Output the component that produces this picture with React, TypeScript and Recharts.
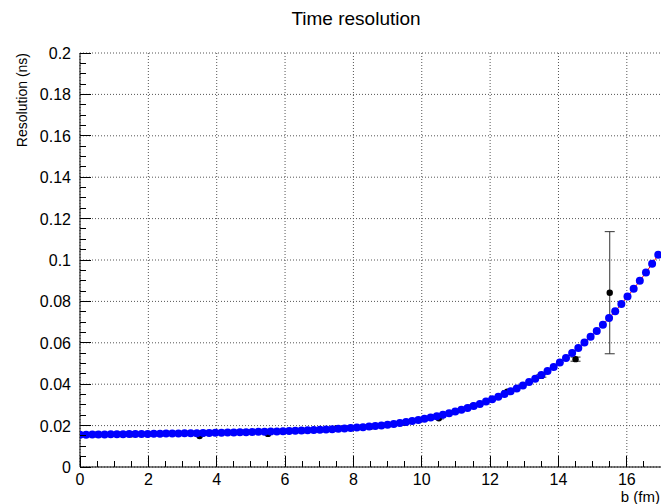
import React from 'react';
import {
  ComposedChart,
  Line,
  Scatter,
  ErrorBar,
  XAxis,
  YAxis,
  CartesianGrid,
} from 'recharts';

// fitted curve, sampled every 0.18 fm (blue markers + red line)
const fitB = [
  0, 0.18, 0.36, 0.54, 0.72, 0.9, 1.08, 1.26, 1.44, 1.62, 1.8, 1.98, 2.16, 2.34, 2.52, 2.7,
  2.88, 3.06, 3.24, 3.42, 3.6, 3.78, 3.96, 4.14, 4.32, 4.5, 4.68, 4.86, 5.04, 5.22, 5.4, 5.58,
  5.76, 5.94, 6.12, 6.3, 6.48, 6.66, 6.84, 7.02, 7.2, 7.38, 7.56, 7.74, 7.92, 8.1, 8.28, 8.46,
  8.64, 8.82, 9, 9.18, 9.36, 9.54, 9.72, 9.9, 10.08, 10.26, 10.44, 10.62, 10.8, 10.98, 11.16,
  11.34, 11.52, 11.7, 11.88, 12.06, 12.24, 12.42, 12.6, 12.78, 12.96, 13.14, 13.32, 13.5, 13.68,
  13.86, 14.04, 14.22, 14.4, 14.58, 14.76, 14.94, 15.12, 15.3, 15.48, 15.66, 15.84, 16.02, 16.2,
  16.38, 16.56, 16.74, 16.92,
];
const fitRes = [
  0.0156, 0.01563, 0.01567, 0.01571, 0.01574, 0.01578, 0.01582, 0.01585, 0.01589, 0.01592,
  0.01596, 0.016, 0.01604, 0.01609, 0.01613, 0.01618, 0.01622, 0.01627, 0.01631, 0.01636,
  0.0164, 0.01645, 0.01649, 0.01656, 0.01663, 0.0167, 0.01677, 0.01684, 0.01692, 0.01699,
  0.01706, 0.01713, 0.0172, 0.01728, 0.01737, 0.01748, 0.01759, 0.01771, 0.01784, 0.01798,
  0.01813, 0.01829, 0.01846, 0.01864, 0.01883, 0.01904, 0.01926, 0.01951, 0.01979, 0.0201,
  0.02044, 0.02082, 0.02123, 0.02168, 0.02217, 0.0227, 0.02328, 0.02389, 0.02454, 0.02523,
  0.02597, 0.02676, 0.02761, 0.02851, 0.02946, 0.03049, 0.03159, 0.03276, 0.03395, 0.03521,
  0.03654, 0.03794, 0.03943, 0.04101, 0.04268, 0.04446, 0.04635, 0.04835, 0.05046, 0.05269,
  0.05505, 0.05753, 0.06014, 0.06288, 0.06576, 0.06878, 0.07195, 0.07526, 0.07872, 0.08232,
  0.08606, 0.08995, 0.09398, 0.09816, 0.10248,
];

// measured points (black, with errors)
const measB = [0.5, 1.5, 2.5, 3.5, 4.5, 5.5, 6.5, 7.5, 8.5, 9.5, 10.5, 11.5, 12.5, 13.5, 14.5, 15.5];
const measRes = [
  0.0157, 0.0158, 0.0162, 0.015, 0.0166, 0.016, 0.0175, 0.0186, 0.0194, 0.0214, 0.0235, 0.0296,
  0.0364, 0.044, 0.0521, 0.0842,
];
const measErr = [
  0.0002, 0.0002, 0.0002, 0.0002, 0.0002, 0.0002, 0.0002, 0.0002, 0.0003, 0.0003, 0.0003,
  0.0004, 0.0005, 0.0006, 0.001, 0.0295,
];

const xMajor = [0, 2, 4, 6, 8, 10, 12, 14, 16];
const yMajor = [0, 0.02, 0.04, 0.06, 0.08, 0.1, 0.12, 0.14, 0.16, 0.18, 0.2];

const xTicks: number[] = [];
for (let i = 0; i <= 34; i++) xTicks.push(i * 0.5);
const yTicks: number[] = [];
for (let i = 0; i <= 40; i++) yTicks.push(+(i * 0.005).toFixed(3));

const fitData = fitB.map((b, i) => ({ b, res: fitRes[i] }));
const measData = measB.map((b, i) => ({ b, res: measRes[i], err: measErr[i] }));

const FONT = "'Liberation Sans', Arial, Helvetica, sans-serif";

const isMajor = (v: number, step: number) => Math.abs(v / step - Math.round(v / step)) < 1e-6;

// ticks point inwards, ROOT style
const XTick = (props: any) => {
  const { x, y, payload } = props;
  const major = isMajor(payload.value, 2);
  return (
    <g>
      <line x1={x} x2={x} y1={y} y2={y - (major ? 11 : 6)} stroke="#000" strokeWidth={1} shapeRendering="crispEdges" />
      {major && (
        <text x={x} y={y + 18} textAnchor="middle" fontSize={16} fontFamily={FONT} fill="#000">
          {payload.value}
        </text>
      )}
    </g>
  );
};

const YTick = (props: any) => {
  const { x, y, payload } = props;
  const major = isMajor(payload.value, 0.02);
  return (
    <g>
      <line x1={x} x2={x + (major ? 11 : 6)} y1={y} y2={y} stroke="#000" strokeWidth={1} shapeRendering="crispEdges" />
      {major && (
        <text x={x - 9} y={y + 6} textAnchor="end" fontSize={16} fontFamily={FONT} fill="#000">
          {+payload.value.toFixed(2)}
        </text>
      )}
    </g>
  );
};

export default function App() {
  return (
    <div style={{ position: 'absolute', left: 0, top: 0, width: 661, height: 504, background: '#fff', fontFamily: FONT }}>
      <div style={{ position: 'absolute', left: 356, top: 8, transform: 'translateX(-50%)', fontSize: 19, whiteSpace: 'nowrap' }}>
        Time resolution
      </div>
      <div
        style={{
          position: 'absolute',
          left: 22,
          top: 53,
          fontSize: 14,
          whiteSpace: 'nowrap',
          transformOrigin: '0 0',
          transform: 'rotate(-90deg) translate(-100%, -50%)',
        }}
      >
        Resolution (ns)
      </div>
      <div style={{ position: 'absolute', right: 1, top: 489, fontSize: 15, lineHeight: '15px', whiteSpace: 'nowrap' }}>b (fm)</div>
      <ComposedChart
        width={661}
        height={504}
        margin={{ top: 53, right: 0, bottom: 0, left: 0 }}
        style={{ position: 'absolute', left: 0, top: 0 }}
      >
        <CartesianGrid
          stroke="#555"
          strokeDasharray="1 2"
          horizontalValues={yMajor}
          verticalValues={xMajor}
        />
        <XAxis
          xAxisId={0}
          type="number"
          dataKey="b"
          domain={[0, 17]}
          ticks={xTicks}
          interval={0}
          height={37}
          tickSize={0}
          tickMargin={0}
          tickLine={false}
          tick={<XTick />}
          axisLine={{ stroke: '#000' }}
          allowDataOverflow
        />
        <XAxis
          xAxisId="top"
          orientation="top"
          type="number"
          domain={[0, 17]}
          height={0}
          tick={false}
          tickLine={false}
          axisLine={{ stroke: '#000' }}
        />
        <YAxis
          type="number"
          dataKey="res"
          domain={[0, 0.2]}
          ticks={yTicks}
          interval={0}
          width={80}
          tickSize={0}
          tickMargin={0}
          tickLine={false}
          tick={<YTick />}
          axisLine={{ stroke: '#000' }}
          allowDataOverflow
        />
        <Scatter data={measData} dataKey="res" fill="#000" isAnimationActive={false} shape={(p: any) => <circle cx={p.cx} cy={p.cy} r={3.2} fill="#000" />}>
          <ErrorBar dataKey="err" direction="y" width={5} stroke="#333" strokeWidth={1} />
        </Scatter>
        <Line
          data={fitData}
          dataKey="res"
          type="linear"
          stroke="#ff0000"
          strokeWidth={1}
          dot={{ r: 4, fill: '#0000ff', stroke: '#0000ff', strokeWidth: 0 }}
          isAnimationActive={false}
        />
      </ComposedChart>
    </div>
  );
}
